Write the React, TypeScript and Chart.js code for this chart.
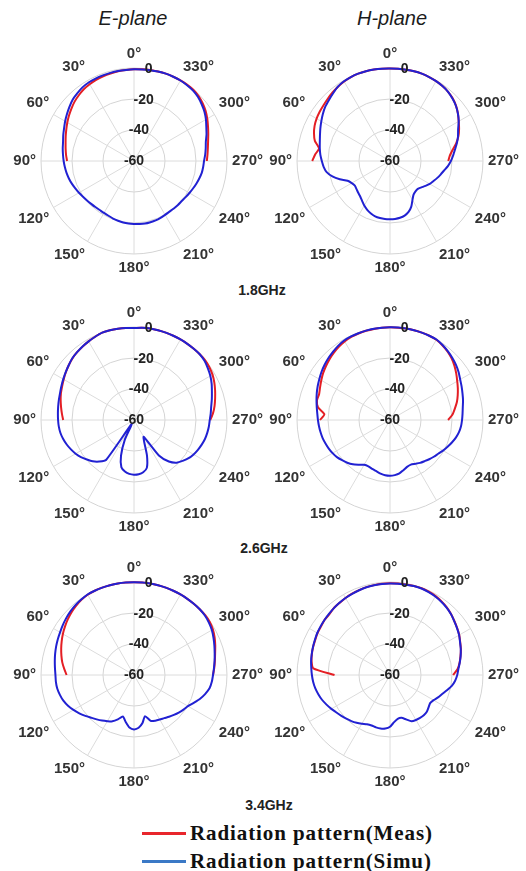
import React, { useEffect, useRef } from 'react';
import { Chart, registerables } from 'chart.js';

Chart.register(...registerables);

const N = null;

// Angles (degrees, counter-clockwise from top as in the figure)
const ANGLES = [
  0, 5, 10, 15, 20, 25, 30, 35, 40, 45, 50, 55,
  60, 65, 70, 75, 80, 85, 90, 95, 100, 105, 110, 115,
  120, 125, 130, 135, 140, 145, 150, 155, 160, 165, 170, 175,
  180, 185, 190, 195, 200, 205, 210, 215, 220, 225, 230, 235,
  240, 245, 250, 255, 260, 265, 270, 275, 280, 285, 290, 295,
  300, 305, 310, 315, 320, 325, 330, 335, 340, 345, 350, 355,
];

const TICK_VALUES = [-60, -40, -20, 0];
const PLANES = ['E-plane', 'H-plane'];
const FREQS = ['1.8GHz', '2.6GHz', '3.4GHz'];
const SERIES_NAMES = ['Radiation pattern(Meas)', 'Radiation pattern(Simu)'];

// ---- 1.8 GHz ----
const E18_SIM = [
  -0.8, -1.0, -1.0, -1.1, -1.2, -1.3, -1.5, -2.0, -3.0, -4.0, -5.6, -7.2,
  -8.7, -10.2, -11.4, -12.6, -13.3, -14.0, -14.6, -15.2, -15.8, -16.5, -17.3, -18.2,
  -19.0, -19.8, -20.4, -20.9, -21.2, -21.4, -21.3, -21.0, -20.5, -20.1, -19.7, -19.5,
  -19.4, -19.2, -19.0, -19.1, -19.2, -19.5, -19.9, -20.1, -20.0, -19.9, -19.8, -19.3,
  -18.7, -18.0, -17.2, -16.4, -15.6, -15.2, -14.8, -13.9, -13.0, -12.0, -10.2, -8.5,
  -6.4, -4.5, -3.0, -1.6, -0.7, -0.3, 0, 0, 0, -0.2, -0.5, -0.7,
];
const E18_MEAS = [
  -0.8, -1.0, -1.2, -1.5, -1.8, -2.2, -2.8, -3.5, -4.6, -5.8, -7.3, -8.8,
  -10.3, -11.8, -13.1, -14.3, -15.2, -16.0, -16.8, N, N, N, N, N,
  N, N, N, N, N, N, N, N, N, N, N, N,
  N, N, N, N, N, N, N, N, N, N, N, N,
  N, N, N, N, N, N, -13.0, -12.4, -11.6, -10.5, -9.0, -7.3,
  -5.4, -3.6, -2.1, -0.9, -0.2, 0, 0, 0, 0, -0.2, -0.4, -0.6,
];
const H18_SIM = [
  -0.3, -0.2, -0.1, 0, 0, -0.2, -0.6, -1.4, -2.9, -4.3, -5.5, -7.1,
  -8.8, -10.4, -11.9, -13.1, -14.0, -14.9, -16.0, -17.0, -18.5, -21.5, -25.5, -29.8,
  -31.5, -32.3, -31.8, -31.0, -30.1, -28.6, -26.8, -25.2, -24.0, -23.0, -22.6, -22.4,
  -22.4, -22.5, -22.8, -23.5, -25.0, -27.5, -31.0, -33.5, -34.4, -34.6, -33.5, -32.0,
  -30.4, -29.2, -27.7, -26.2, -24.6, -22.5, -20.7, -19.1, -17.4, -15.3, -13.3, -11.5,
  -8.8, -6.5, -4.5, -3.0, -1.7, -1.0, -0.5, -0.2, 0, 0, -0.2, -0.3,
];
const H18_MEAS = [
  -0.3, -0.2, -0.1, 0, 0, -0.3, -0.8, -1.5, -2.3, -3.2, -4.0, -4.6,
  -5.3, -6.3, -7.8, -9.8, -13.5, -11.5, -9.8, N, N, N, N, N,
  N, N, N, N, N, N, N, N, N, N, N, N,
  N, N, N, N, N, N, N, N, N, N, N, N,
  N, N, N, N, N, N, -22.4, -21.3, -19.0, -15.8, -13.0, -10.8,
  -8.8, -6.5, -4.4, -2.8, -1.7, -1.0, -0.5, -0.2, 0, 0, -0.2, -0.3,
];

// ---- 2.6 GHz ----
const E26_SIM = [
  -0.6, -0.4, -0.2, 0, 0, -0.7, -1.4, -2.1, -2.9, -3.7, -5.0, -6.2,
  -7.3, -8.3, -9.2, -9.8, -10.3, -10.7, -11.0, -11.3, -11.8, -12.7, -13.8, -15.1,
  -16.5, -18.2, -20.3, -22.3, -25.0, -28.5, -57.0, -46.0, -35.5, -28.5, -26.3, -25.1,
  -24.7, -24.9, -25.8, -28.0, -35.5, -44.5, -47.5, -32.0, -25.0, -21.0, -19.0, -17.0,
  -15.6, -14.5, -13.5, -12.6, -12.0, -11.5, -11.1, -10.3, -9.4, -8.0, -6.5, -4.7,
  -3.1, -1.8, -0.6, 0, 0, 0, 0, 0, 0, 0, 0, -0.3,
];
const E26_MEAS = [
  -0.6, -0.4, -0.2, 0, 0, -0.7, -1.4, -2.2, -2.9, -3.8, -5.0, -6.3,
  -7.6, -8.8, -9.8, -11.0, -12.2, -13.3, -14.3, N, N, N, N, N,
  N, N, N, N, N, N, N, N, N, N, N, N,
  N, N, N, N, N, N, N, N, N, N, N, N,
  N, N, N, N, N, N, -10.8, -8.8, -7.2, -5.8, -4.3, -2.8,
  -1.5, -0.6, 0, 0, 0, 0, 0, 0, 0, 0, 0, -0.3,
];
const H26_SIM = [
  -0.2, -0.2, -0.2, -0.3, -0.4, -0.5, -0.8, -1.6, -2.7, -3.7, -4.8, -6.0,
  -7.3, -8.5, -9.7, -10.9, -12.0, -12.9, -13.5, -14.0, -14.5, -15.0, -15.7, -16.4,
  -17.2, -18.2, -19.6, -21.0, -22.7, -24.8, -26.6, -27.0, -26.4, -25.8, -24.9, -24.2,
  -24.0, -24.3, -25.0, -26.5, -27.8, -28.2, -27.3, -26.2, -25.3, -24.2, -23.1, -22.0,
  -20.5, -19.0, -17.5, -16.0, -14.8, -14.0, -13.5, -13.0, -12.3, -11.2, -10.2, -9.0,
  -7.7, -6.0, -4.5, -3.2, -2.0, -0.9, 0, 0, 0, 0, 0, -0.1,
];
const H26_MEAS = [
  -0.2, -0.2, -0.3, -0.4, -0.6, -0.9, -1.5, -2.4, -3.5, -4.7, -6.0, -7.3,
  -8.8, -10.2, -11.3, -11.2, -12.8, -17.5, -14.8, N, N, N, N, N,
  N, N, N, N, N, N, N, N, N, N, N, N,
  N, N, N, N, N, N, N, N, N, N, N, N,
  N, N, N, N, N, N, -22.5, -19.5, -17.5, -15.3, -13.5, -11.7,
  -9.9, -7.8, -5.7, -3.8, -2.3, -1.1, -0.2, 0, 0, 0, -0.1, -0.2,
];

// ---- 3.4 GHz ----
const E34_SIM = [
  -0.2, -0.1, 0, 0, 0, 0, 0, -0.6, -1.2, -2.0, -2.9, -3.9,
  -4.9, -5.7, -6.5, -7.3, -8.1, -8.8, -9.3, -9.4, -9.7, -10.5, -11.5, -13.0,
  -14.9, -16.9, -19.0, -21.0, -22.6, -24.1, -25.6, -27.0, -29.5, -32.3, -29.2, -26.0,
  -24.9, -25.8, -28.5, -32.5, -28.5, -27.5, -26.8, -26.0, -24.8, -23.6, -22.3, -21.0,
  -19.8, -17.5, -14.8, -12.5, -10.5, -9.6, -9.0, -8.2, -7.2, -6.1, -4.8, -3.4,
  -2.0, -1.0, -0.3, 0, 0, 0, 0, 0, 0, 0, 0, -0.1,
];
const E34_MEAS = [
  -0.2, -0.1, 0, 0, 0, 0, -0.2, -0.8, -1.8, -2.9, -4.2, -5.6,
  -7.0, -8.5, -10.0, -11.5, -13.0, -14.8, -16.5, N, N, N, N, N,
  N, N, N, N, N, N, N, N, N, N, N, N,
  N, N, N, N, N, N, N, N, N, N, N, N,
  N, N, N, N, N, N, -9.0, -8.0, -7.0, -5.8, -4.2, -2.6,
  -1.2, -0.3, 0, 0, 0, 0, 0, 0, 0, 0, 0, -0.1,
];
const H34_SIM = [
  -0.9, -1.0, -1.2, -1.4, -1.8, -2.2, -2.6, -3.1, -3.7, -4.3, -4.8, -5.3,
  -5.8, -6.5, -7.1, -7.7, -8.3, -9.0, -9.6, -10.2, -11.0, -12.1, -13.3, -14.8,
  -16.3, -17.8, -19.0, -20.1, -21.2, -22.4, -23.7, -24.9, -25.3, -25.0, -24.9, -25.3,
  -26.6, -29.5, -31.3, -31.4, -29.5, -27.1, -26.5, -26.2, -26.1, -26.4, -27.5, -28.4,
  -27.5, -25.8, -24.2, -22.0, -19.5, -17.8, -16.6, -15.7, -14.3, -12.8, -11.4, -10.1,
  -8.5, -7.2, -5.9, -4.4, -3.2, -2.3, -1.5, -1.0, -0.6, -0.6, -0.8, -0.9,
];
const H34_MEAS = [
  -0.8, -0.9, -1.1, -1.3, -1.7, -2.1, -2.6, -3.2, -3.6, -4.6, -4.8, -5.6,
  -6.0, -6.7, -7.2, -7.8, -8.6, -10.3, -24.2, N, N, N, N, N,
  N, N, N, N, N, N, N, N, N, N, N, N,
  N, N, N, N, N, N, N, N, N, N, N, N,
  N, N, N, N, N, N, -19.3, -16.2, -14.4, -12.9, -11.3, -10.0,
  -8.4, -7.1, -5.8, -4.3, -3.0, -2.0, -1.2, -0.7, -0.4, -0.5, -0.7, -0.8,
];

const SIM_COLOR = '#2121d2';
const MEAS_COLOR = '#e41e24';
const LEGEND_MEAS_COLOR = '#e8262c';
const LEGEND_SIM_COLOR = '#3b79c6';
const TICK_LABEL_ANGLE = 9; // degrees clockwise from the top spoke
const SANS = '"Liberation Sans", Arial, Helvetica, sans-serif';
const SERIF = '"Liberation Serif", "Times New Roman", serif';

// radar scale runs clockwise; the figure's angles run counter-clockwise
function toRadar<T>(arr: T[]): T[] {
  const n = arr.length;
  return arr.map((_, i) => arr[(n - i) % n]);
}

const tickLabelPlugin = {
  id: 'rTickLabels',
  afterDatasetsDraw(chart: any) {
    const s = chart.scales.r;
    const ctx = chart.ctx;
    const a = (TICK_LABEL_ANGLE * Math.PI) / 180;
    ctx.save();
    ctx.font = `bold 14px ${SANS}`;
    ctx.fillStyle = '#222';
    ctx.textAlign = 'center';
    ctx.textBaseline = 'middle';
    TICK_VALUES.forEach((v) => {
      const d = s.getDistanceFromCenterForValue(v);
      ctx.fillText(String(v), s.xCenter + d * Math.sin(a), s.yCenter - d * Math.cos(a));
    });
    ctx.restore();
  },
};

type PanelProps = { sim: number[]; meas: (number | null)[]; left: number; top: number };

function PolarPanel({ sim, meas, left, top }: PanelProps) {
  const ref = useRef<HTMLCanvasElement>(null);
  useEffect(() => {
    if (!ref.current) return;
    const radarAngles = toRadar(ANGLES);
    const chart = new Chart(ref.current, {
      type: 'radar',
      data: {
        labels: radarAngles.map((a) => `${a}°`),
        datasets: [
          {
            label: SERIES_NAMES[1],
            data: toRadar(sim),
            borderColor: SIM_COLOR,
            backgroundColor: 'transparent',
            borderWidth: 2,
            pointRadius: 0,
            pointHoverRadius: 0,
            fill: false,
            tension: 0.2,
            order: 0,
          },
          {
            label: SERIES_NAMES[0],
            data: toRadar(meas) as any,
            borderColor: MEAS_COLOR,
            backgroundColor: 'transparent',
            borderWidth: 2,
            pointRadius: 0,
            pointHoverRadius: 0,
            fill: false,
            spanGaps: false,
            tension: 0.2,
            order: 1,
          },
        ],
      },
      options: {
        responsive: false,
        animation: false,
        events: [],
        layout: { padding: 0 },
        plugins: { legend: { display: false }, tooltip: { enabled: false } },
        scales: {
          r: {
            min: -60,
            max: 0,
            ticks: { display: false, stepSize: 20 },
            grid: { circular: true, color: '#d4d4d4', lineWidth: 1 },
            angleLines: {
              color: '#dcdcdc',
              lineWidth: (c: any) => (radarAngles[c.index] % 30 === 0 ? 1 : 0),
            },
            pointLabels: {
              color: '#333',
              padding: 5,
              font: { family: SANS, size: 15, weight: 'bold' },
              callback: (label: string, i: number) => (radarAngles[i] % 30 === 0 ? label : ''),
            },
          },
        },
      } as any,
      plugins: [tickLabelPlugin],
    });
    return () => chart.destroy();
  }, [sim, meas]);
  return (
    <canvas
      ref={ref}
      width={258}
      height={232}
      style={{ position: 'absolute', left, top, width: 258, height: 232 }}
    />
  );
}

const PANELS = [
  { sim: E18_SIM, meas: E18_MEAS, left: 10, top: 45 },
  { sim: H18_SIM, meas: H18_MEAS, left: 266, top: 45 },
  { sim: E26_SIM, meas: E26_MEAS, left: 10, top: 304 },
  { sim: H26_SIM, meas: H26_MEAS, left: 266, top: 304 },
  { sim: E34_SIM, meas: E34_MEAS, left: 10, top: 559 },
  { sim: H34_SIM, meas: H34_MEAS, left: 266, top: 559 },
];

const centered = (x: number, y: number): React.CSSProperties => ({
  position: 'absolute',
  left: x,
  top: y,
  transform: 'translate(-50%, -50%)',
  whiteSpace: 'nowrap',
});

export default function App() {
  const freqPos = [
    { x: 262, y: 290 },
    { x: 264, y: 548 },
    { x: 269, y: 805 },
  ];
  return (
    <div
      style={{
        position: 'absolute',
        left: 0,
        top: 0,
        width: 526,
        height: 871,
        background: '#fff',
        overflow: 'hidden',
      }}
    >
      <div style={{ ...centered(133, 18), font: `italic 20px ${SANS}`, color: '#1c1c1c' }}>{PLANES[0]}</div>
      <div style={{ ...centered(392, 18), font: `italic 20px ${SANS}`, color: '#1c1c1c' }}>{PLANES[1]}</div>
      {PANELS.map((p, i) => (
        <PolarPanel key={i} sim={p.sim} meas={p.meas} left={p.left} top={p.top} />
      ))}
      {FREQS.map((f, i) => (
        <div key={f} style={{ ...centered(freqPos[i].x, freqPos[i].y), font: `bold 14px ${SANS}`, color: '#222' }}>
          {f}
        </div>
      ))}
      <div style={{ position: 'absolute', left: 142, top: 832, width: 44, height: 3, background: LEGEND_MEAS_COLOR }} />
      <div
        style={{
          position: 'absolute',
          left: 190,
          top: 833,
          transform: 'translateY(-50%)',
          font: `bold 21px ${SERIF}`,
          letterSpacing: '0.9px',
          color: '#111',
          whiteSpace: 'nowrap',
        }}
      >
        {SERIES_NAMES[0]}
      </div>
      <div style={{ position: 'absolute', left: 142, top: 860, width: 44, height: 3, background: LEGEND_SIM_COLOR }} />
      <div
        style={{
          position: 'absolute',
          left: 190,
          top: 861,
          transform: 'translateY(-50%)',
          font: `bold 21px ${SERIF}`,
          letterSpacing: '0.9px',
          color: '#111',
          whiteSpace: 'nowrap',
        }}
      >
        {SERIES_NAMES[1]}
      </div>
    </div>
  );
}
